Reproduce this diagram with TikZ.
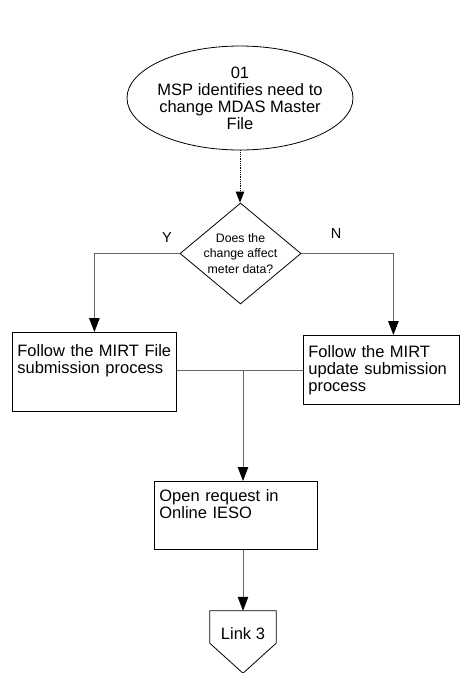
\documentclass[tikz,border=0pt]{standalone}
\usepackage{fontspec}
\setmainfont{Liberation Sans}
\usetikzlibrary{shapes.geometric}
\usetikzlibrary{arrows.meta}

\begin{document}
\begin{tikzpicture}
[x=1pt,y=-1pt,
  every node/.style={inner sep=4pt},%
  stepText/.style={font=\fontsize{16.5}{17}\selectfont},
  stepBox/.style={stepText,draw,line width=0.8pt,rectangle,anchor=north west,
    align=left,inner xsep=5pt,inner ysep=4pt},
  startNode/.style={stepText,draw,line width=0.8pt,ellipse,align=center,
    inner sep=-5pt,minimum width=226pt,minimum height=104pt},
  decisionNode/.style={draw,line width=0.8pt,diamond,align=center,inner sep=-6pt,
    minimum width=121pt,minimum height=101pt,font=\fontsize{12.3}{15.5}\selectfont},
  branchLabel/.style={font=\fontsize{14.5}{16}\selectfont},
  plainLine/.style={-,draw=black!60,line width=0.8pt},
  lineDecorate/.style={plainLine,-{Triangle[width=10.5pt,length=14pt,color=black]}},
  dottedDecorate/.style={-{Triangle[width=8.5pt,length=11pt,color=black]},
    densely dotted,line width=0.8pt}]
\useasboundingbox (0,0) rectangle (461,673);

\node[startNode] (msp) at (240,98)
  {01\\MSP identifies need to\\change MDAS Master\\File};
\node[decisionNode] (decision) at (240.5,253.5)
  {Does the\\change affect\\meter data?};
\node[branchLabel] (yes) at (167,238) {Y};
\node[branchLabel] (no) at (336,234) {N};

\node[stepBox,text width=154pt,text height=20pt,text depth=51pt] (fileBox) at (12,332)
  {Follow the MIRT File\\submission process};
\node[stepBox,text width=146pt,text height=18pt,text depth=43pt] (updateBox) at (303,335)
  {Follow the MIRT\\update submission\\process};
\node[stepBox,text width=153pt,text height=16pt,text depth=44pt] (openReq) at (154,481)
  {Open request in\\Online IESO};

\node[stepText,inner sep=0pt,minimum width=66pt,minimum height=32pt,
  text height=24pt,text depth=0pt] (link3) at (243,627) {Link 3};
\draw[line width=0.8pt] (link3.north west) -- (link3.north east) -- (link3.south east)
  -- ([yshift=-30pt]link3.south) -- (link3.south west) -- cycle;

\coordinate (merge) at (243,370);
\coordinate (updateIn) at ([xshift=12pt]updateBox.north);

\draw[dottedDecorate] (msp.south) -- (msp.south |- decision.north);
\path
\foreach \startNode/\endNode in {
  decision.west/fileBox.north, decision.east/updateIn}
{
  (\startNode) edge[lineDecorate,to path={-| (\tikztotarget)}] (\endNode)
};
\draw[plainLine] (fileBox.east |- merge) -- (updateBox.west |- merge);
\draw[lineDecorate] (merge) -- (merge |- openReq.north);
\draw[lineDecorate] (link3.north |- openReq.south) -- (link3.north);
\end{tikzpicture}
\end{document}
